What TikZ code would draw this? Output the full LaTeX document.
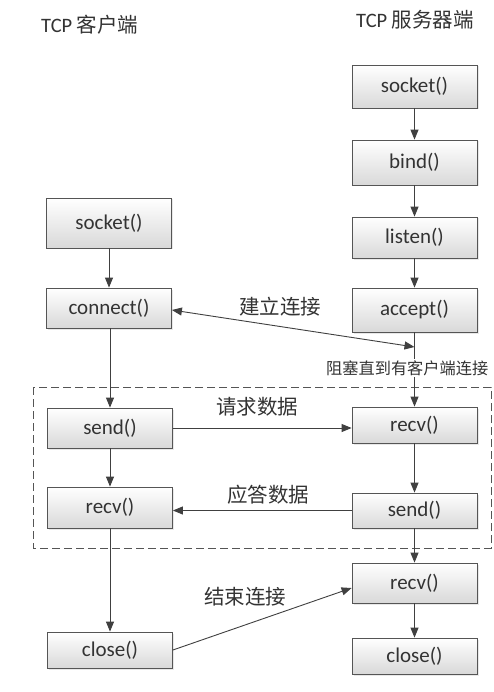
\documentclass[tikz,border=0pt]{standalone}
\usepackage{fontspec}
\setmainfont{Carlito}
\newfontfamily\cjk{Noto Sans CJK SC}
\usetikzlibrary{arrows.meta,shadows}
\definecolor{ln}{HTML}{404040}
\definecolor{bd}{HTML}{555555}
\definecolor{tx}{HTML}{333333}
\begin{document}
\begin{tikzpicture}[x=1pt,y=-1pt,
  box/.style={draw=bd, line width=0.8pt, top color=white, bottom color=black!15,
    minimum width=125pt, inner sep=0pt, text=tx,
    font=\fontsize{21}{25}\selectfont,
    drop shadow={opacity=0.18, shadow xshift=1.5pt, shadow yshift=-1.5pt}},
  arr/.style={draw=ln, line width=0.9pt, -{Triangle[length=10pt,width=8pt]}},
  arrtwo/.style={draw=ln, line width=0.9pt, {Triangle[length=10pt,width=8pt]}-{Triangle[length=10pt,width=8pt]}},
  lbl/.style={text=tx, font=\cjk\fontsize{20.5}{24}\selectfont, inner sep=1pt},
  head/.style={text=tx, anchor=west, font=\fontsize{20.5}{24}\selectfont, inner sep=0pt},
  dbox/.style={draw=bd, line width=0.8pt, dash pattern=on 8pt off 4pt}
]
\useasboundingbox[fill=white] (0,0) rectangle (493,692);

% headings
\node[head] (hc) at (41,25) {TCP {\cjk 客户端}};
\node[head] (hs) at (356,20) {TCP {\cjk 服务器端}};

% dashed group
\draw[dbox] (33,387) rectangle (491,548);

% server column
\node[box, minimum height=43pt] (ssock)  at (414.5,86.5) {socket()};
\node[box, minimum height=45pt] (sbind)  at (414.5,162.5) {bind()};
\node[box, minimum height=41pt] (slist)  at (414.5,237.5) {listen()};
\node[box, minimum height=44pt] (sacc)   at (414.5,310) {accept()};
\node[box, minimum height=36pt] (srecv)  at (414.5,425) {recv()};
\node[box, minimum height=35pt] (ssend)  at (414.5,510.5) {send()};
\node[box, minimum height=40pt] (srecvb) at (414.5,583) {recv()};
\node[box, minimum height=36pt] (sclose) at (414.5,656) {close()};

% client column
\node[box, minimum height=50pt] (csock)  at (109,223) {socket()};
\node[box, minimum height=40pt] (cconn)  at (109,308) {connect()};
\node[box, minimum height=40pt] (csend)  at (110,428) {send()};
\node[box, minimum height=41pt] (crecv)  at (110,507.5) {recv()};
\node[box, minimum height=36pt] (cclose) at (110,650) {close()};

% server flow
\draw[arr] (ssock) -- (sbind);
\draw[arr] (sbind) -- (slist);
\draw[arr] (slist) -- (sacc);
\draw[arr] (sacc) -- (srecv);
\draw[arr] (srecv) -- (ssend);
\draw[arr] (ssend) -- (srecvb);
\draw[arr] (srecvb) -- (sclose);

% client flow
\draw[arr] (csock) -- (cconn);
\draw[arr] (cconn.south -| csend) -- (csend);
\draw[arr] (csend) -- (crecv);
\draw[arr] (crecv) -- (cclose);

% interactions
\coordinate (mid) at (414.5,347);
\draw[arrtwo] ([yshift=-2pt]cconn.east) -- (mid);
\draw[arr] (csend.east) -- (csend.east -| srecv.west);
\draw[arr] (ssend.west) -- (ssend.west -| crecv.east);
\draw[arr] (cclose.east) -- ([yshift=-5pt]srecvb.west);

% labels
\node[lbl] (l1) at (280,307) {建立连接};
\node[lbl] (l2) at (257,407) {请求数据};
\node[lbl] (l3) at (268,495) {应答数据};
\node[lbl] (l4) at (245,597) {结束连接};
\node[text=tx, font=\cjk\fontsize{16.2}{20}\selectfont, fill=white, inner sep=1pt, anchor=west] (blk) at (325,368) {阻塞直到有客户端连接};
\end{tikzpicture}
\end{document}
